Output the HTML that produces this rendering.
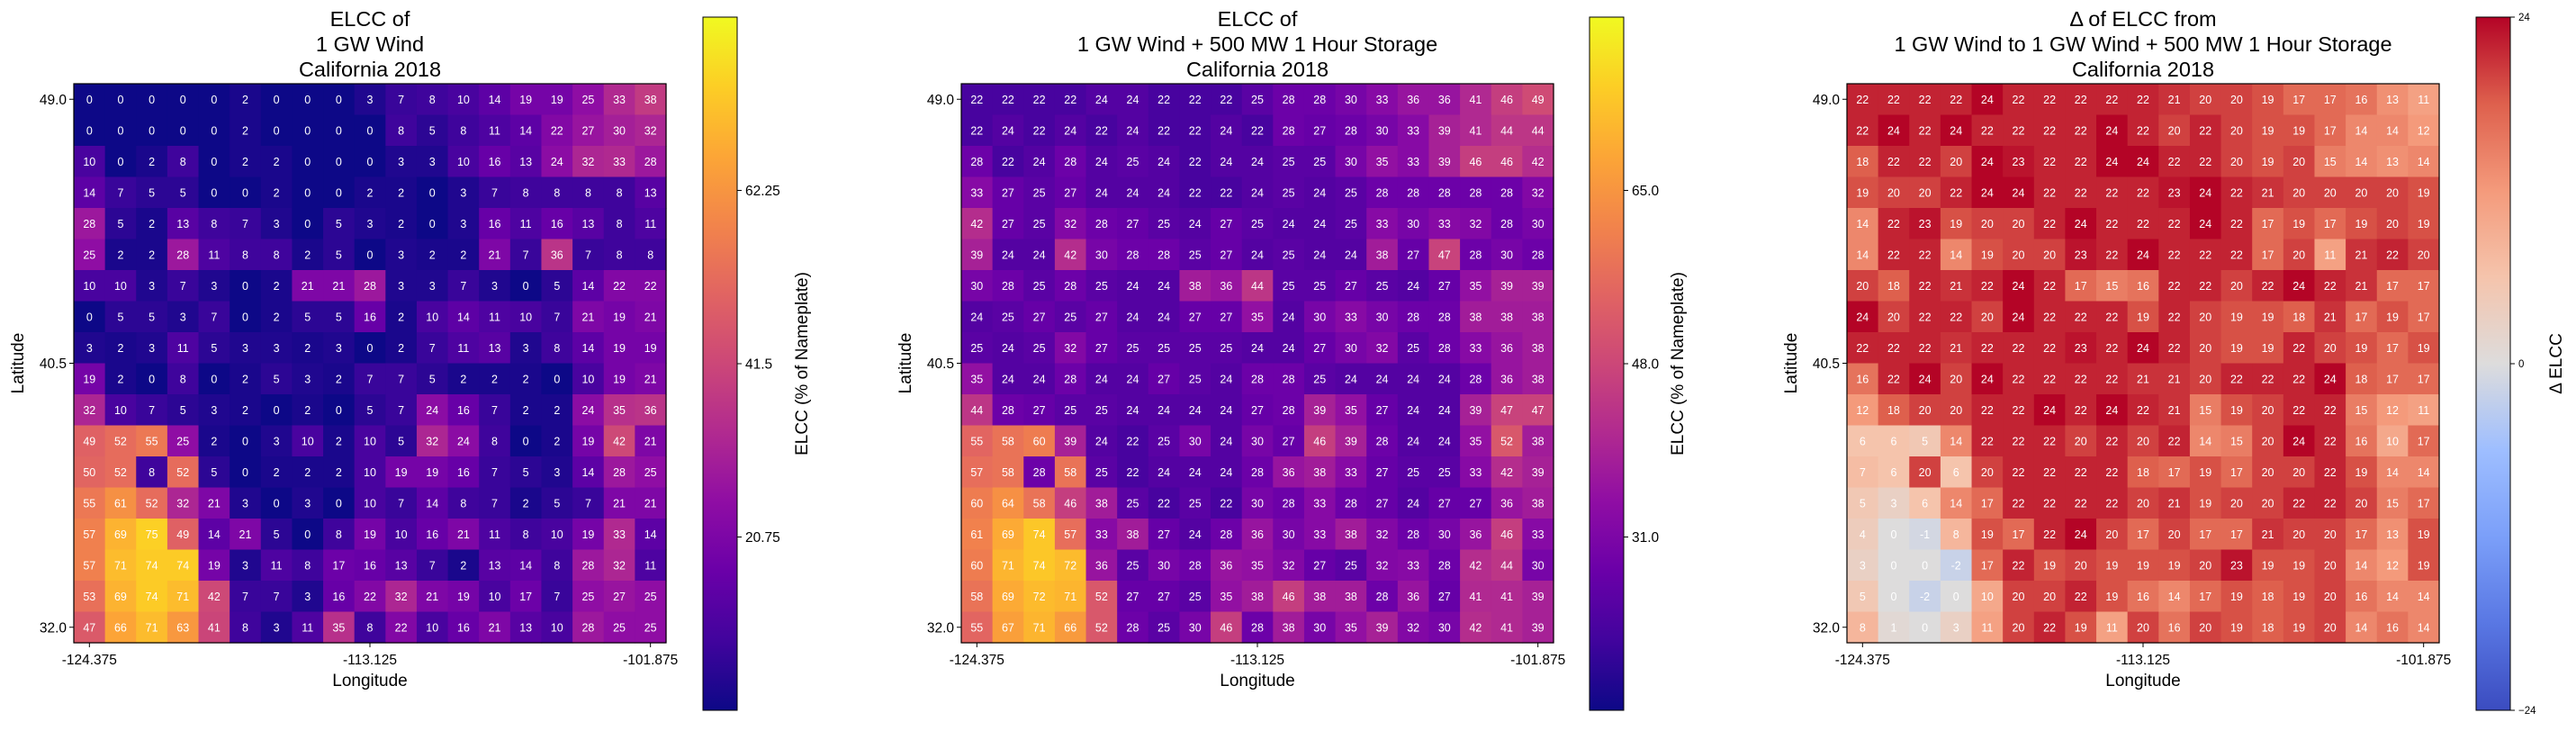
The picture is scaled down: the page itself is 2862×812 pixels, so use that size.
<!DOCTYPE html>
<html><head><meta charset="utf-8">
<style>
html,body{margin:0;padding:0;background:#fff;}
svg text{font-family:"Liberation Sans","DejaVu Sans",sans-serif;}
</style></head>
<body>
<svg id="root" width="2862" height="807" viewBox="0 0 2862 807" xmlns="http://www.w3.org/2000/svg">
<defs>
<linearGradient id="gPlasma" x1="0" y1="1" x2="0" y2="0">
<stop offset="0" stop-color="#0d0887"/><stop offset="0.1" stop-color="#41049d"/><stop offset="0.2" stop-color="#6a00a8"/><stop offset="0.3" stop-color="#8f0da4"/><stop offset="0.4" stop-color="#b12a90"/><stop offset="0.5" stop-color="#cc4778"/><stop offset="0.6" stop-color="#e16462"/><stop offset="0.7" stop-color="#f2844b"/><stop offset="0.8" stop-color="#fca636"/><stop offset="0.9" stop-color="#fcce25"/><stop offset="1" stop-color="#f0f921"/>
</linearGradient>
<linearGradient id="gCool" x1="0" y1="1" x2="0" y2="0">
<stop offset="0" stop-color="#3b4cc0"/><stop offset="0.125" stop-color="#5977e3"/><stop offset="0.25" stop-color="#7b9ff9"/><stop offset="0.375" stop-color="#9ebeff"/><stop offset="0.5" stop-color="#dddcdc"/><stop offset="0.625" stop-color="#f5c4ac"/><stop offset="0.75" stop-color="#f49a7b"/><stop offset="0.875" stop-color="#de604d"/><stop offset="1" stop-color="#b40426"/>
</linearGradient>
</defs>
</svg>
<script>
const longitudeTicks = ["-124.375","-113.125","-101.875"];
const longitudeTickCols = [0, 9, 18];
const latitudeTicks = ["49.0","40.5","32.0"];
const latitudeTickRows = [0, 8.5, 17];

const elccWind = [
[0,0,0,0,0,2,0,0,0,3,7,8,10,14,19,19,25,33,38],
[0,0,0,0,0,2,0,0,0,0,8,5,8,11,14,22,27,30,32],
[10,0,2,8,0,2,2,0,0,0,3,3,10,16,13,24,32,33,28],
[14,7,5,5,0,0,2,0,0,2,2,0,3,7,8,8,8,8,13],
[28,5,2,13,8,7,3,0,5,3,2,0,3,16,11,16,13,8,11],
[25,2,2,28,11,8,8,2,5,0,3,2,2,21,7,36,7,8,8],
[10,10,3,7,3,0,2,21,21,28,3,3,7,3,0,5,14,22,22],
[0,5,5,3,7,0,2,5,5,16,2,10,14,11,10,7,21,19,21],
[3,2,3,11,5,3,3,2,3,0,2,7,11,13,3,8,14,19,19],
[19,2,0,8,0,2,5,3,2,7,7,5,2,2,2,0,10,19,21],
[32,10,7,5,3,2,0,2,0,5,7,24,16,7,2,2,24,35,36],
[49,52,55,25,2,0,3,10,2,10,5,32,24,8,0,2,19,42,21],
[50,52,8,52,5,0,2,2,2,10,19,19,16,7,5,3,14,28,25],
[55,61,52,32,21,3,0,3,0,10,7,14,8,7,2,5,7,21,21],
[57,69,75,49,14,21,5,0,8,19,10,16,21,11,8,10,19,33,14],
[57,71,74,74,19,3,11,8,17,16,13,7,2,13,14,8,28,32,11],
[53,69,74,71,42,7,7,3,16,22,32,21,19,10,17,7,25,27,25],
[47,66,71,63,41,8,3,11,35,8,22,10,16,21,13,10,28,25,25]];

const elccWindStorage = [
[22,22,22,22,24,24,22,22,22,25,28,28,30,33,36,36,41,46,49],
[22,24,22,24,22,24,22,22,24,22,28,27,28,30,33,39,41,44,44],
[28,22,24,28,24,25,24,22,24,24,25,25,30,35,33,39,46,46,42],
[33,27,25,27,24,24,24,22,22,24,25,24,25,28,28,28,28,28,32],
[42,27,25,32,28,27,25,24,27,25,24,24,25,33,30,33,32,28,30],
[39,24,24,42,30,28,28,25,27,24,25,24,24,38,27,47,28,30,28],
[30,28,25,28,25,24,24,38,36,44,25,25,27,25,24,27,35,39,39],
[24,25,27,25,27,24,24,27,27,35,24,30,33,30,28,28,38,38,38],
[25,24,25,32,27,25,25,25,25,24,24,27,30,32,25,28,33,36,38],
[35,24,24,28,24,24,27,25,24,28,28,25,24,24,24,24,28,36,38],
[44,28,27,25,25,24,24,24,24,27,28,39,35,27,24,24,39,47,47],
[55,58,60,39,24,22,25,30,24,30,27,46,39,28,24,24,35,52,38],
[57,58,28,58,25,22,24,24,24,28,36,38,33,27,25,25,33,42,39],
[60,64,58,46,38,25,22,25,22,30,28,33,28,27,24,27,27,36,38],
[61,69,74,57,33,38,27,24,28,36,30,33,38,32,28,30,36,46,33],
[60,71,74,72,36,25,30,28,36,35,32,27,25,32,33,28,42,44,30],
[58,69,72,71,52,27,27,25,35,38,46,38,38,28,36,27,41,41,39],
[55,67,71,66,52,28,25,30,46,28,38,30,35,39,32,30,42,41,39]];

const elccDelta = [
[22,22,22,22,24,22,22,22,22,22,21,20,20,19,17,17,16,13,11],
[22,24,22,24,22,22,22,22,24,22,20,22,20,19,19,17,14,14,12],
[18,22,22,20,24,23,22,22,24,24,22,22,20,19,20,15,14,13,14],
[19,20,20,22,24,24,22,22,22,22,23,24,22,21,20,20,20,20,19],
[14,22,23,19,20,20,22,24,22,22,22,24,22,17,19,17,19,20,19],
[14,22,22,14,19,20,20,23,22,24,22,22,22,17,20,11,21,22,20],
[20,18,22,21,22,24,22,17,15,16,22,22,20,22,24,22,21,17,17],
[24,20,22,22,20,24,22,22,22,19,22,20,19,19,18,21,17,19,17],
[22,22,22,21,22,22,22,23,22,24,22,20,19,19,22,20,19,17,19],
[16,22,24,20,24,22,22,22,22,21,21,20,22,22,22,24,18,17,17],
[12,18,20,20,22,22,24,22,24,22,21,15,19,20,22,22,15,12,11],
[6,6,5,14,22,22,22,20,22,20,22,14,15,20,24,22,16,10,17],
[7,6,20,6,20,22,22,22,22,18,17,19,17,20,20,22,19,14,14],
[5,3,6,14,17,22,22,22,22,20,21,19,20,20,22,22,20,15,17],
[4,0,-1,8,19,17,22,24,20,17,20,17,17,21,20,20,17,13,19],
[3,0,0,-2,17,22,19,20,19,19,19,20,23,19,19,20,14,12,19],
[5,0,-2,0,10,20,20,22,19,16,14,17,19,18,19,20,16,14,14],
[8,1,0,3,11,20,22,19,11,20,16,20,19,18,19,20,14,16,14]];

const titles1 = ["ELCC of","1 GW Wind","California 2018"];
const titles2 = ["ELCC of","1 GW Wind + 500 MW 1 Hour Storage","California 2018"];
const titles3 = ["Δ of ELCC from","1 GW Wind to 1 GW Wind + 500 MW 1 Hour Storage","California 2018"];
const cbarTicks1 = [20.75, 41.5, 62.25];
const cbarTicks2 = [31.0, 48.0, 65.0];
const cbarTicks3 = [-24, 0, 24];

const plasma = ["#0d0887","#41049d","#6a00a8","#8f0da4","#b12a90","#cc4778","#e16462","#f2844b","#fca636","#fcce25","#f0f921"];
const coolwarm = ["#3b4cc0","#5977e3","#7b9ff9","#9ebeff","#dddcdc","#f5c4ac","#f49a7b","#de604d","#b40426"];
function hex(c){return [parseInt(c.slice(1,3),16),parseInt(c.slice(3,5),16),parseInt(c.slice(5,7),16)];}
function cmap(stops,t){t=Math.max(0,Math.min(1,t));const n=stops.length-1;const f=t*n;const i=Math.min(n-1,Math.floor(f));const u=f-i;const a=hex(stops[i]),b=hex(stops[i+1]);return "rgb("+a.map((v,k)=>Math.round(v+(b[k]-v)*u)).join(",")+")";}

const NS="http://www.w3.org/2000/svg";
const root=document.getElementById("root");
function mk(tag,attrs,parent){const e=document.createElementNS(NS,tag);for(const k in attrs)e.setAttribute(k,attrs[k]);(parent||root).appendChild(e);return e;}

function drawChart(cfg){
  const g=mk("g",{});
  
  
  const X0=cfg.x0, Y0=93, W=658, H=621;
  const rows=cfg.data.length, cols=cfg.data[0].length;
  const cw=W/cols, ch=H/rows;
  const xScale=c=>X0+(c+0.5)*cw;
  const yScale=r=>Y0+(r+0.5)*ch;
  const norm=v=>(v-cfg.vmin)/(cfg.vmax-cfg.vmin);
  for(let r=0;r<rows;r++)for(let c=0;c<cols;c++){
    const v=cfg.data[r][c];
    const rect=mk("rect",{x:(X0+c*cw).toFixed(2),y:(Y0+r*ch).toFixed(2),width:(cw+0.6).toFixed(2),height:(ch+0.6).toFixed(2),fill:cmap(cfg.stops,norm(v))},g);
    
    
  }
  for(let r=0;r<rows;r++)for(let c=0;c<cols;c++){
    const t=mk("text",{x:xScale(c),y:yScale(r)+4.5,"text-anchor":"middle","font-size":"12.5",fill:"#fff"},g);
    t.textContent=cfg.data[r][c];
    
    
  }
  const frame=mk("rect",{x:X0,y:Y0,width:W,height:H,fill:"none",stroke:"#000","stroke-width":"1.2"},g);
  
  
  longitudeTicks.forEach((lab,i)=>{
    const x=xScale(longitudeTickCols[i]);
    mk("line",{x1:x,y1:Y0+H,x2:x,y2:Y0+H+5,stroke:"#000","stroke-width":"1"},g);
    const t=mk("text",{x:x,y:Y0+H+24,"text-anchor":"middle","font-size":"15.5",fill:"#000"},g);
    t.textContent=lab;
    
    
  });
  latitudeTicks.forEach((lab,i)=>{
    const y=yScale(latitudeTickRows[i]);
    mk("line",{x1:X0-5,y1:y,x2:X0,y2:y,stroke:"#000","stroke-width":"1"},g);
    const t=mk("text",{x:X0-8,y:y+5.5,"text-anchor":"end","font-size":"15.5",fill:"#000"},g);
    t.textContent=lab;
    
    
  });
  const xl=mk("text",{x:X0+W/2,y:762,"text-anchor":"middle","font-size":"19",fill:"#000"},g);
  xl.textContent="Longitude";
  
  
  const yl=mk("text",{x:0,y:0,"text-anchor":"middle","font-size":"19",fill:"#000",transform:"translate("+(X0-56)+","+(Y0+H/2)+") rotate(-90)"},g);
  yl.textContent="Latitude";
  
  
  cfg.titles.forEach((s,i)=>{
    const t=mk("text",{x:X0+W/2,y:29+i*28,"text-anchor":"middle","font-size":"23.5",fill:"#000"},g);
    t.textContent=s;
    
    
  });
  // colorbar
  const CX=cfg.cx, CT=19, CB=789;
  const cb=mk("rect",{x:CX,y:CT,width:38,height:CB-CT,fill:"url(#"+cfg.grad+")",stroke:"#000","stroke-width":"1"},g);
  
  
  const cy=v=>CB-(v-cfg.vmin)/(cfg.vmax-cfg.vmin)*(CB-CT);
  cfg.cticks.forEach(v=>{
    const y=cy(v);
    mk("line",{x1:CX+38,y1:y,x2:CX+43,y2:y,stroke:"#000","stroke-width":"1"},g);
    const t=mk("text",{x:CX+47,y:y+(cfg.small?4:5.5),"font-size":cfg.small?"11.5":"15.5",fill:"#000"},g);
    t.textContent=cfg.small?(v<0?"\u2212"+(-v):String(v)):(Number.isInteger(v*10)&&v%1===0?v.toFixed(1):String(v));
    
    
  });
  const cl=mk("text",{x:0,y:0,"text-anchor":"middle","font-size":"19",fill:"#000",transform:"translate("+cfg.clx+",404) rotate(-90)"},g);
  cl.textContent=cfg.clabel;
  
  
}

drawChart({name:"wind-elcc-heatmap",x0:82,data:elccWind,vmin:0,vmax:83,stops:plasma,grad:"gPlasma",titles:titles1,cx:781,cticks:cbarTicks1,clx:897,clabel:"ELCC (% of Nameplate)"});
drawChart({name:"wind-storage-elcc-heatmap",x0:1068,data:elccWindStorage,vmin:14,vmax:82,stops:plasma,grad:"gPlasma",titles:titles2,cx:1766,cticks:cbarTicks2,clx:1870,clabel:"ELCC (% of Nameplate)"});
drawChart({name:"delta-elcc-heatmap",x0:2052,data:elccDelta,vmin:-24,vmax:24,stops:coolwarm,grad:"gCool",titles:titles3,cx:2751,cticks:cbarTicks3,clx:2846,clabel:"Δ ELCC",small:true});
</script>
</body></html>
